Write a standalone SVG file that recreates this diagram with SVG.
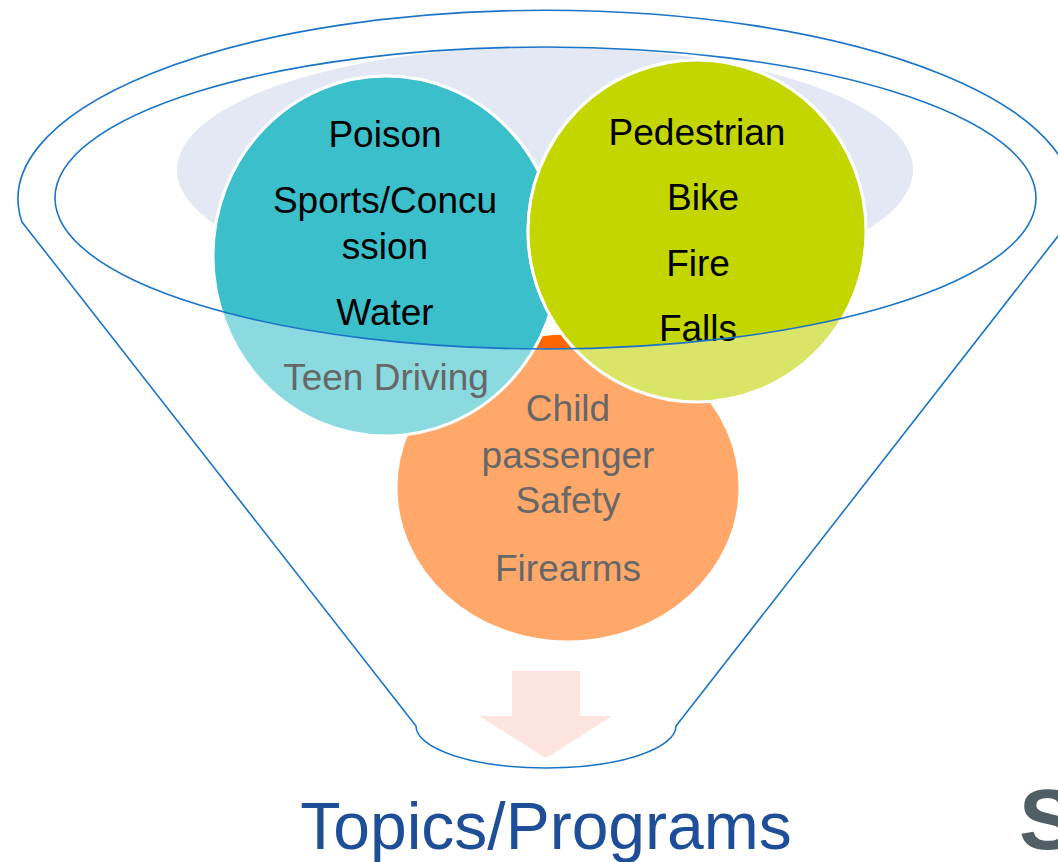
<svg xmlns="http://www.w3.org/2000/svg" width="1058" height="862" viewBox="0 0 1058 862">
  <style>
    .rim { fill: none; stroke: #1A75C9; stroke-width: 1.6; }
    .bub { stroke: #FFFFFF; stroke-width: 3; }
    .t { font-family: "Liberation Sans", Arial, sans-serif; font-size: 37px; text-anchor: middle; }
    .dk { fill: #000000; }
    .lt { fill: #676767; }
  </style>
  <defs>
    <clipPath id="inner">
      <ellipse cx="545.5" cy="198" rx="490.5" ry="151"/>
    </clipPath>
  </defs>
  <rect width="1058" height="862" fill="#FFFFFF"/>

  <g id="funnel">
    <path class="rim" d="M 22 222 A 527.5 188.6 0 1 1 1069 222 L 676 726 A 130 42 0 0 1 416 726 Z"/>
    <ellipse cx="545" cy="170" rx="368" ry="123" fill="#E3E8F4"/>
  </g>

  <g id="node-orange">
    <ellipse class="bub" cx="568" cy="487.5" rx="172" ry="154.5" fill="#FFA869"/>
    <ellipse class="bub" cx="568" cy="487.5" rx="172" ry="154.5" fill="#FF6600" clip-path="url(#inner)"/>
    <text class="t lt" x="568" y="421">Child</text>
    <text class="t lt" x="568" y="468">passenger</text>
    <text class="t lt" x="568" y="513">Safety</text>
    <text class="t lt" x="568" y="581">Firearms</text>
  </g>

  <g id="node-teal">
    <ellipse class="bub" cx="386" cy="256" rx="173" ry="180" fill="#8ADAE0"/>
    <ellipse class="bub" cx="386" cy="256" rx="173" ry="180" fill="#3BBFCB" clip-path="url(#inner)"/>
    <text class="t dk" x="385" y="147">Poison</text>
    <text class="t dk" x="385" y="213">Sports/Concu</text>
    <text class="t dk" x="385" y="259">ssion</text>
    <text class="t dk" x="385" y="325">Water</text>
    <text class="t lt" x="386" y="390">Teen Driving</text>
  </g>

  <g id="node-green">
    <ellipse class="bub" cx="697" cy="231" rx="169" ry="171" fill="#DAE466"/>
    <ellipse class="bub" cx="697" cy="231" rx="169" ry="171" fill="#C4D600" clip-path="url(#inner)"/>
    <text class="t dk" x="697" y="145">Pedestrian</text>
    <text class="t dk" x="703" y="210">Bike</text>
    <text class="t dk" x="698" y="276">Fire</text>
    <text class="t dk" x="698" y="341">Falls</text>
  </g>

  <g id="connectors">
    <ellipse class="rim" cx="545.5" cy="198" rx="490.5" ry="151"/>
    <path id="arrow" d="M 512 671 L 580 671 L 580 716 L 612 716 L 546 758 L 479 716 L 512 716 Z" fill="#FDE4DF"/>
  </g>

  <text x="546" y="849" font-family="Liberation Sans, Arial, sans-serif" font-size="66" fill="#1F4E99" text-anchor="middle">Topics/Programs</text>
  <text x="1019" y="849" font-family="Liberation Sans, Arial, sans-serif" font-size="86" font-weight="bold" fill="#505E66">S</text>
</svg>
